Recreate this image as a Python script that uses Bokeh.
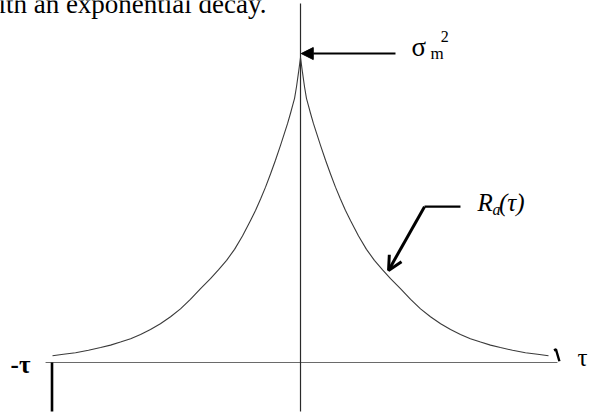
from bokeh.plotting import figure
from bokeh.models import Range1d, Arrow, NormalHead, OpenHead
from bokeh.core.properties import value
from bokeh.embed import file_html
from bokeh.resources import INLINE
import numpy as np

# Autocorrelation R_a(tau): lag (normalised, 1 = end of the drawn lag window)
# and value (normalised, 1 = sigma_m^2 at zero lag); the curve is symmetric.
lag = [0.0, 0.008, 0.016, 0.024, 0.032, 0.040, 0.052, 0.065, 0.081, 0.101,
       0.121, 0.141, 0.161, 0.181, 0.202, 0.234, 0.266, 0.298, 0.331, 0.363,
       0.403, 0.444, 0.484, 0.524, 0.565, 0.605, 0.645, 0.685, 0.726, 0.766,
       0.806, 0.855, 0.907, 0.956, 1.0]
r_val = [1.000, 0.951, 0.905, 0.866, 0.842, 0.818, 0.784, 0.751, 0.711, 0.663,
         0.618, 0.575, 0.536, 0.499, 0.465, 0.415, 0.371, 0.335, 0.304, 0.275,
         0.242, 0.207, 0.176, 0.150, 0.127, 0.108, 0.092, 0.078, 0.067, 0.057,
         0.049, 0.040, 0.032, 0.027, 0.022]

axis_labels = ["-\u03c4", "\u03c4"]
peak_label = "\u03c3"
curve_label = "R"

W, H = 589, 413
p = figure(width=W, height=H, output_backend="svg", toolbar_location=None,
           x_range=Range1d(-1.2097, 1.1653), y_range=Range1d(-0.1672, 1.1869),
           x_axis_type=None, y_axis_type=None, min_border=0)
p.grid.visible = False
p.outline_line_color = None
p.background_fill_color = "white"
p.border_fill_color = "white"

serif = value("Liberation Serif, Times New Roman, DejaVu Serif, serif")

# body text running into the figure from above
p.text(x=[-0.137], y=[1.177], text=["with an exponential decay."], text_font=serif,
       text_font_size="27px", text_align="right", text_baseline="alphabetic",
       text_color="black")

# axes
p.line(x=[-1.028, 1.036], y=[0, 0], line_color="#6a6a6a", line_width=1.2)
p.line(x=[0, 0], y=[1.177, -0.161], line_color="#2a2a2a", line_width=1.2)
p.line(x=[-1.002, -1.002], y=[0, -0.161], line_color="black", line_width=2.6)
p.line(x=[1.022, 1.030, 1.044], y=[0.040, 0.043, 0.004], line_color="black", line_width=2.4)

# the curve, right and left halves
lag_a = np.array(lag)
r_a = np.array(r_val)
p.line(x=lag_a, y=r_a, line_color="#3a3a3a", line_width=1.1)
p.line(x=-lag_a, y=r_a, line_color="#3a3a3a", line_width=1.1)

# lag labels
p.text(x=[-1.169], y=[-0.008], text=[axis_labels[0]], text_font=serif,
       text_font_size="25px", text_font_style="bold", text_baseline="alphabetic",
       text_color="black")
p.text(x=[1.117], y=[0.018], text=[axis_labels[1]], text_font=serif,
       text_font_size="25px", text_baseline="alphabetic", text_color="black")

# sigma_m^2 pointer to the peak
p.add_layout(Arrow(x_start=0.383, y_start=r_val[0] + 0.013, x_end=0.003, y_end=r_val[0] + 0.013,
                   line_width=2, line_color="black",
                   end=NormalHead(size=12, fill_color="black", line_color="black")))
p.text(x=[0.448], y=[1.033], text=[peak_label], text_font=serif, text_font_size="27px",
       text_baseline="alphabetic", text_color="black")
p.text(x=[0.524], y=[1.013], text=["m"], text_font=serif, text_font_size="17px",
       text_baseline="alphabetic", text_color="black")
p.text(x=[0.565], y=[1.070], text=["2"], text_font=serif, text_font_size="16px",
       text_baseline="alphabetic", text_color="black")

# R_a(tau) pointer to the curve
p.line(x=[0.645, 0.500], y=[0.511, 0.511], line_color="black", line_width=2.2)
p.add_layout(Arrow(x_start=0.500, y_start=0.511, x_end=0.355, y_end=0.302,
                   line_width=3, line_color="black",
                   end=OpenHead(size=14, line_width=3, line_color="black")))
p.text(x=[0.714], y=[0.526], text=[curve_label], text_font=serif, text_font_size="25px",
       text_font_style="italic", text_baseline="alphabetic", text_color="black")
p.text(x=[0.774], y=[0.503], text=["a"], text_font=serif, text_font_size="16px",
       text_font_style="italic", text_baseline="alphabetic", text_color="black")
p.text(x=[0.800], y=[0.526], text=["(\u03c4)"], text_font=serif, text_font_size="25px",
       text_font_style="italic", text_baseline="alphabetic", text_color="black")

open("out.html", "w").write(file_html(p, INLINE))
